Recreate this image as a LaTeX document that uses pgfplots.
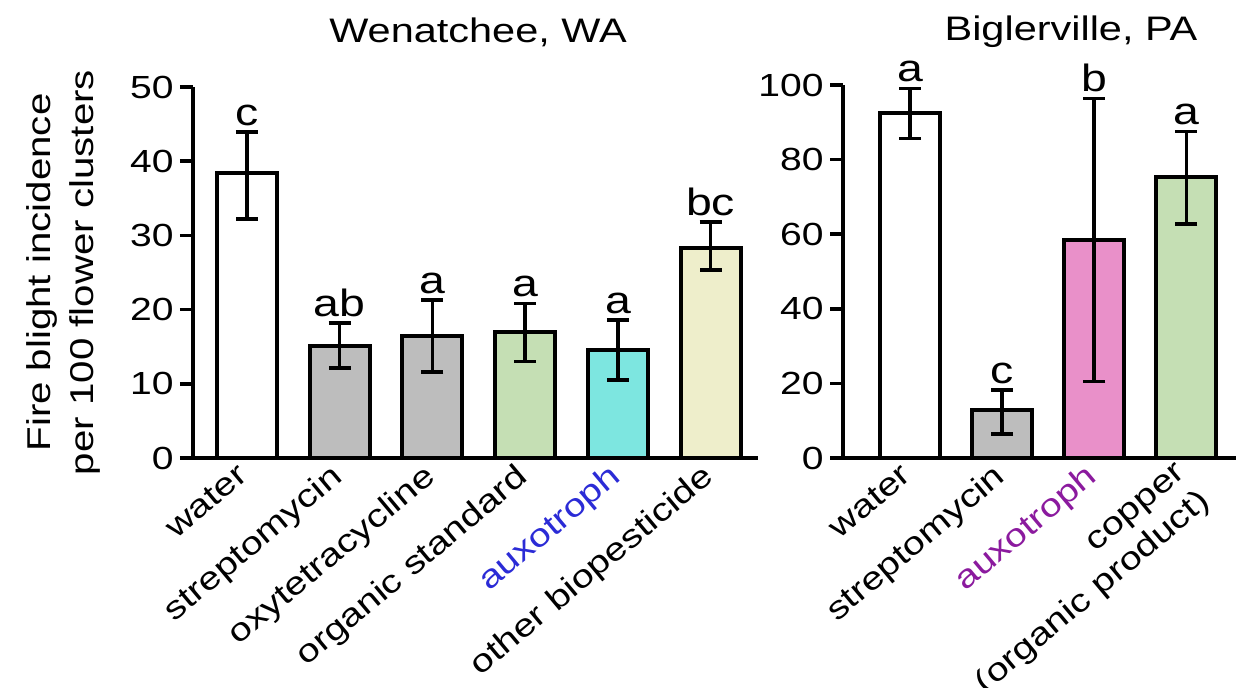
\documentclass[border=0pt]{standalone}
\usepackage{fontspec}
\setmainfont{Liberation Sans}[FakeStretch=1.22]
\usepackage{pgfplots}
\pgfplotsset{compat=1.18}
\definecolor{bgray}{HTML}{BDBDBD}
\definecolor{bgreen}{HTML}{C5DFB4}
\definecolor{bcyan}{HTML}{7DE6E0}
\definecolor{bbeige}{HTML}{EEEECB}
\definecolor{bpink}{HTML}{E990C9}
\definecolor{auxblue}{HTML}{2B2BD6}
\definecolor{auxpurple}{HTML}{8B1A9E}
\pgfplotsset{
  mybase/.style={
    scale only axis, axis lines=left,
    axis line style={-, line width=1.8pt},
    ymin=0, clip=false,
    major x tick style={draw=none},
    major y tick style={line width=1.8pt, black},
    tick align=outside, major tick length=6.5pt,
    /pgf/number format/assume math mode=true,
    xticklabel style={rotate=40, anchor=north east, align=right, inner sep=1pt, yshift=8pt},
    yticklabel style={inner sep=3pt},
  },
  mybar/.style={ybar, bar width=30pt, bar shift=0pt, draw=black, line width=2pt, fill=#1,
    error bars/.cd, y dir=both, y explicit,
    error bar style={line width=1.8pt, black, solid},
    error mark options={rotate=90, mark size=5.5pt, line width=1.8pt, black}},
  mylab/.style={only marks, mark=none, point meta=explicit symbolic, nodes near coords,
    nodes near coords style={anchor=south, inner sep=3pt, font=\fontsize{19}{22}\selectfont}},
}
\begin{document}
\fontsize{16}{19}\selectfont
\begin{tikzpicture}
\path[use as bounding box] (-96.5pt,-115pt) rectangle (521.5pt,229pt);
\begin{axis}[mybase, at={(0pt,0pt)}, anchor=south west,
  width=282.5pt, height=185.5pt,
  xmin=-0.58, xmax=5.51, ymax=50,
  xtick={0,1,2,3,4,5}, ytick={0,10,20,30,40,50},
  xticklabels={water, streptomycin, oxytetracycline, organic standard, \textcolor{auxblue}{auxotroph}, other biopesticide},
  ylabel={Fire blight incidence\\per 100 flower clusters},
  ylabel style={align=center, at={(rel axis cs:-0.23,0.5)}, anchor=center, font=\fontsize{16.5}{21.5}\selectfont},
]
\addplot[mybar=white]  coordinates {(0,38.4) += (0,5.5) -= (0,6.2)};
\addplot[mybar=bgray]  coordinates {(1,15.1) += (0,3.1) -= (0,3.0)};
\addplot[mybar=bgray]  coordinates {(2,16.5) += (0,4.8) -= (0,4.9)};
\addplot[mybar=bgreen] coordinates {(3,17.0) += (0,3.8) -= (0,4.0)};
\addplot[mybar=bcyan]  coordinates {(4,14.6) += (0,4.0) -= (0,4.1)};
\addplot[mybar=bbeige] coordinates {(5,28.3) += (0,3.5) -= (0,3.0)};
\addplot[mylab] coordinates {(0,43.9)[c] (1,18.2)[ab] (2,21.3)[a] (3,20.8)[a] (4,18.6)[a] (5,31.8)[bc]};
\end{axis}
\begin{axis}[mybase, at={(325pt,0pt)}, anchor=south west,
  width=196.5pt, height=186.5pt,
  xmin=-0.73, xmax=3.54, ymax=100,
  xtick={0,1,2,3}, ytick={0,20,40,60,80,100},
  xticklabels={water, streptomycin, \textcolor{auxpurple}{auxotroph}, {copper\\(organic product)}},
]
\addplot[mybar=white]  coordinates {(0,92.6) += (0,6.5) -= (0,6.9)};
\addplot[mybar=bgray]  coordinates {(1,13.0) += (0,5.2) -= (0,6.6)};
\addplot[mybar=bpink]  coordinates {(2,58.4) += (0,38.0) -= (0,37.9)};
\addplot[mybar=bgreen] coordinates {(3,75.4) += (0,12.1) -= (0,12.7)};
\addplot[mylab] coordinates {(0,99.1)[a] (1,18.2)[c] (2,96.4)[b] (3,87.5)[a]};
\end{axis}
\node at (142.5pt,213pt) {\fontsize{17}{20}\selectfont Wenatchee, WA};
\node at (439pt,213pt) {\fontsize{17}{20}\selectfont Biglerville, PA};
\end{tikzpicture}
\end{document}
